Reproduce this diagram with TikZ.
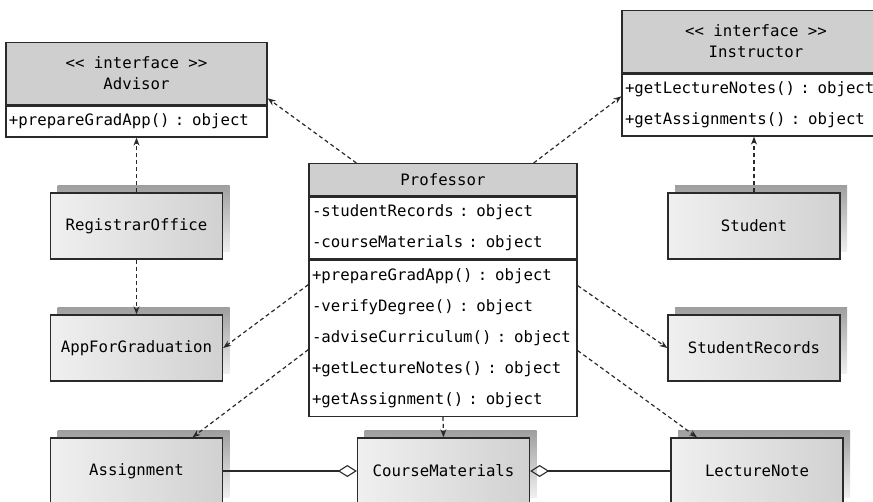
\documentclass[tikz,border=0pt]{standalone}
\usepackage{fontspec}
\usepackage{tikz}
\usetikzlibrary{positioning, arrows.meta, shadows}
\newfontfamily\umlfont{DejaVu Sans Mono}
\newcommand\umltext[1]{\umlfont\fontsize{15.7}{#1}\selectfont}
\definecolor{umlline}{HTML}{2A2A2A}
\definecolor{umlhead}{HTML}{CFCFCF}

\begin{document}
\begin{tikzpicture}[
    x=1pt, y=-1pt,
    node distance=0pt,
    ihead/.style={draw=umlline, line width=1.3pt, fill=umlhead, font=\umltext{21}, align=center, inner sep=0pt, anchor=north},
    comp/.style={draw=umlline, line width=1.3pt, fill=white, font=\umltext{31}, align=left, inner xsep=3pt, inner ysep=0pt},
    cls/.style={draw=umlline, line width=1.3pt, left color=gray!12, right color=gray!36, font=\umltext{18}, minimum width=172pt, minimum height=66pt,
      general shadow={shadow xshift=7pt, shadow yshift=7pt, top color=gray!75, bottom color=gray!12}},
    dep/.style={draw=umlline, line width=1.2pt, dash pattern=on 4pt off 3pt, -{Stealth[length=8pt, width=6pt]}},
    agg/.style={draw=umlline, line width=1.1pt, -{Diamond[open, length=19pt, width=12pt, line width=1.1pt]}}
  ]
    \useasboundingbox (0,0) rectangle (873,502);

    \node[ihead, minimum width=261pt, minimum height=62pt] (advhead) at (136.5,42) {<< interface >>\\Advisor};
    \node[comp, below=of advhead, text width=255pt, minimum height=31pt] (advops) {+prepareGradApp() : object};

    \node[ihead, minimum width=268pt, minimum height=62pt] (inshead) at (756,10) {<< interface >>\\Instructor};
    \node[comp, below=of inshead, text width=262pt, minimum height=62pt] (insops) {+getLectureNotes() : object\\+getAssignments() : object};

    \node[ihead, minimum width=268pt, minimum height=32pt] (profhead) at (443,163) {Professor};
    \node[comp, below=of profhead, text width=262pt, minimum height=62pt] (profattr) {-studentRecords : object\\-courseMaterials : object};
    \node[comp, below=of profattr, text width=262pt, minimum height=156pt] (profops) {+prepareGradApp() : object\\-verifyDegree() : object\\-adviseCurriculum() : object\\+getLectureNotes() : object\\+getAssignment() : object};

    \node[cls] (registrar) at (136.5,226) {RegistrarOffice};
    \node[cls] (appgrad)   at (136.5,348) {AppForGraduation};
    \node[cls] (student)   at (754,226)   {Student};
    \node[cls] (records)   at (754,348)   {StudentRecords};
    \node[cls] (assign)    at (136.5,471) {Assignment};
    \node[cls] (materials) at (443.5,471) {CourseMaterials};
    \node[cls] (lecture)   at (757,471)   {LectureNote};

    \draw[dep] ([xshift=48pt]profhead.north west) -- ([yshift=7pt]advhead.south east);
    \draw[dep] ([xshift=-44pt]profhead.north east) -- ([yshift=-23pt]inshead.south west);
    \draw[dep] (registrar.north) -- (advops.south);
    \draw[dep] (student.north) -- (student.north |- insops.south);
    \draw[dep] (registrar.south) -- (appgrad.north);
    \draw[dep] ([yshift=-25pt]profops.north west) -- (appgrad.east);
    \draw[dep] ([yshift=-26pt]profops.north east) -- (records.west);
    \draw[dep] ([yshift=-90pt]profops.north west) -- ([xshift=56pt]assign.north);
    \draw[dep] ([yshift=-91pt]profops.north east) -- ([xshift=-60pt]lecture.north);
    \draw[dep] (profops.south) -- (materials.north);
    \draw[agg] (assign.east) -- (materials.west);
    \draw[agg] (lecture.west) -- (materials.east);
  \end{tikzpicture}
\end{document}
